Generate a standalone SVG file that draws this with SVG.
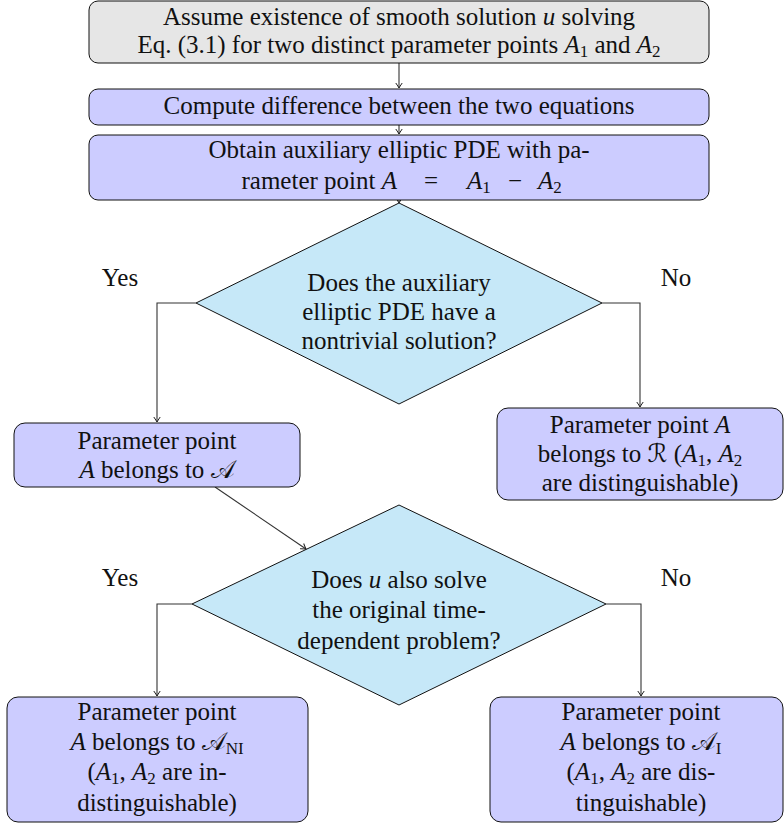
<svg xmlns="http://www.w3.org/2000/svg" width="784" height="823" viewBox="0 0 784 823">
<defs>
<marker id="arr" viewBox="-6 -4 7 8" refX="0" refY="0" markerWidth="7" markerHeight="8" orient="auto" markerUnits="userSpaceOnUse">
<path d="M -5 -3.2 Q -1.5 -0.8 0 0 Q -1.5 0.8 -5 3.2" fill="none" stroke="#222" stroke-width="1"/>
</marker>
</defs>
<style>
text{font-family:"Liberation Serif","DejaVu Serif",serif;font-size:25px;fill:#111;text-anchor:middle}
.i{font-style:italic}
.s{font-size:17px}
.box{fill:#ccccff;stroke:#111;stroke-width:1}
.gray{fill:#e6e6e6;stroke:#111;stroke-width:1}
.dia{fill:#c6e8f8;stroke:#111;stroke-width:1}
.c{fill:none;stroke:#333;stroke-width:1.1;marker-end:url(#arr)}
.cal{font-family:"DejaVu Serif","DejaVu Sans","Noto Sans",serif;font-style:normal}
</style>
<g id="connectors">
<path class="c" d="M399 63 V88"/>
<path class="c" d="M399 125 V134"/>
<path class="c" d="M399 198 V203"/>
<path class="c" d="M196 303 H157 V422"/>
<path class="c" d="M602 303 H640 V407"/>
<path class="c" d="M215 487 L306 549"/>
<path class="c" d="M192 604 H157 V696"/>
<path class="c" d="M606 604 H641 V696"/>
</g>
<g id="n1">
<rect class="gray" x="89" y="1" width="620" height="62" rx="9"/>
<text x="399" y="25">Assume existence of smooth solution <tspan class="i">u</tspan> solving</text>
<text x="399" y="53">Eq. (3.1) for two distinct parameter points <tspan class="i">A</tspan><tspan class="s" dy="4">1</tspan><tspan dy="-4"> and </tspan><tspan class="i">A</tspan><tspan class="s" dy="4">2</tspan></text>
</g>
<g id="n2">
<rect class="box" x="89" y="89" width="620" height="36" rx="9"/>
<text x="399" y="114">Compute difference between the two equations</text>
</g>
<g id="n3">
<rect class="box" x="89" y="135" width="620" height="65" rx="9"/>
<text x="399" y="158">Obtain auxiliary elliptic PDE with pa-</text>
<text x="397" y="189" style="text-anchor:end">rameter point <tspan class="i">A</tspan></text>
<text x="431" y="189">=</text>
<text x="467" y="189" style="text-anchor:start"><tspan class="i">A</tspan><tspan class="s" dy="4">1</tspan></text>
<text x="515" y="189">−</text>
<text x="538" y="189" style="text-anchor:start"><tspan class="i">A</tspan><tspan class="s" dy="4">2</tspan></text>
</g>
<g id="d1">
<polygon class="dia" points="399,203 602,303 399,404 196,303"/>
<text x="399" y="291">Does the auxiliary</text>
<text x="399" y="320">elliptic PDE have a</text>
<text x="399" y="349">nontrivial solution?</text>
</g>
<g id="l1"><text x="120" y="286">Yes</text></g>
<g id="l2"><text x="676" y="286">No</text></g>
<g id="n4">
<rect class="box" x="14" y="423" width="286" height="64" rx="11"/>
<text x="157" y="449">Parameter point</text>
<text x="157" y="478"><tspan class="i">A</tspan> belongs to <tspan class="cal">𝒜</tspan></text>
</g>
<g id="n5">
<rect class="box" x="497" y="408" width="286" height="92" rx="11"/>
<text x="640" y="433">Parameter point <tspan class="i">A</tspan></text>
<text x="640" y="462">belongs to <tspan class="cal">ℛ</tspan> (<tspan class="i">A</tspan><tspan class="s" dy="4">1</tspan><tspan dy="-4">, </tspan><tspan class="i">A</tspan><tspan class="s" dy="4">2</tspan></text>
<text x="640" y="491">are distinguishable)</text>
</g>
<g id="d2">
<polygon class="dia" points="399,505 606,604 399,705 192,604"/>
<text x="399" y="588">Does <tspan class="i">u</tspan> also solve</text>
<text x="399" y="618">the original time-</text>
<text x="399" y="649">dependent problem?</text>
</g>
<g id="l3"><text x="120" y="586">Yes</text></g>
<g id="l4"><text x="676" y="586">No</text></g>
<g id="n6">
<rect class="box" x="7" y="697" width="301" height="125" rx="11"/>
<text x="157" y="720">Parameter point</text>
<text x="157" y="750"><tspan class="i">A</tspan> belongs to <tspan class="cal">𝒜</tspan><tspan class="s" dy="4">NI</tspan></text>
<text x="157" y="780">(<tspan class="i">A</tspan><tspan class="s" dy="4">1</tspan><tspan dy="-4">, </tspan><tspan class="i">A</tspan><tspan class="s" dy="4">2</tspan><tspan dy="-4"> are in-</tspan></text>
<text x="157" y="811">distinguishable)</text>
</g>
<g id="n7">
<rect class="box" x="490" y="697" width="293" height="125" rx="11"/>
<text x="641" y="720">Parameter point</text>
<text x="641" y="750"><tspan class="i">A</tspan> belongs to <tspan class="cal">𝒜</tspan><tspan class="s" dy="4">I</tspan></text>
<text x="641" y="780">(<tspan class="i">A</tspan><tspan class="s" dy="4">1</tspan><tspan dy="-4">, </tspan><tspan class="i">A</tspan><tspan class="s" dy="4">2</tspan><tspan dy="-4"> are dis-</tspan></text>
<text x="641" y="811">tinguishable)</text>
</g>
</svg>
